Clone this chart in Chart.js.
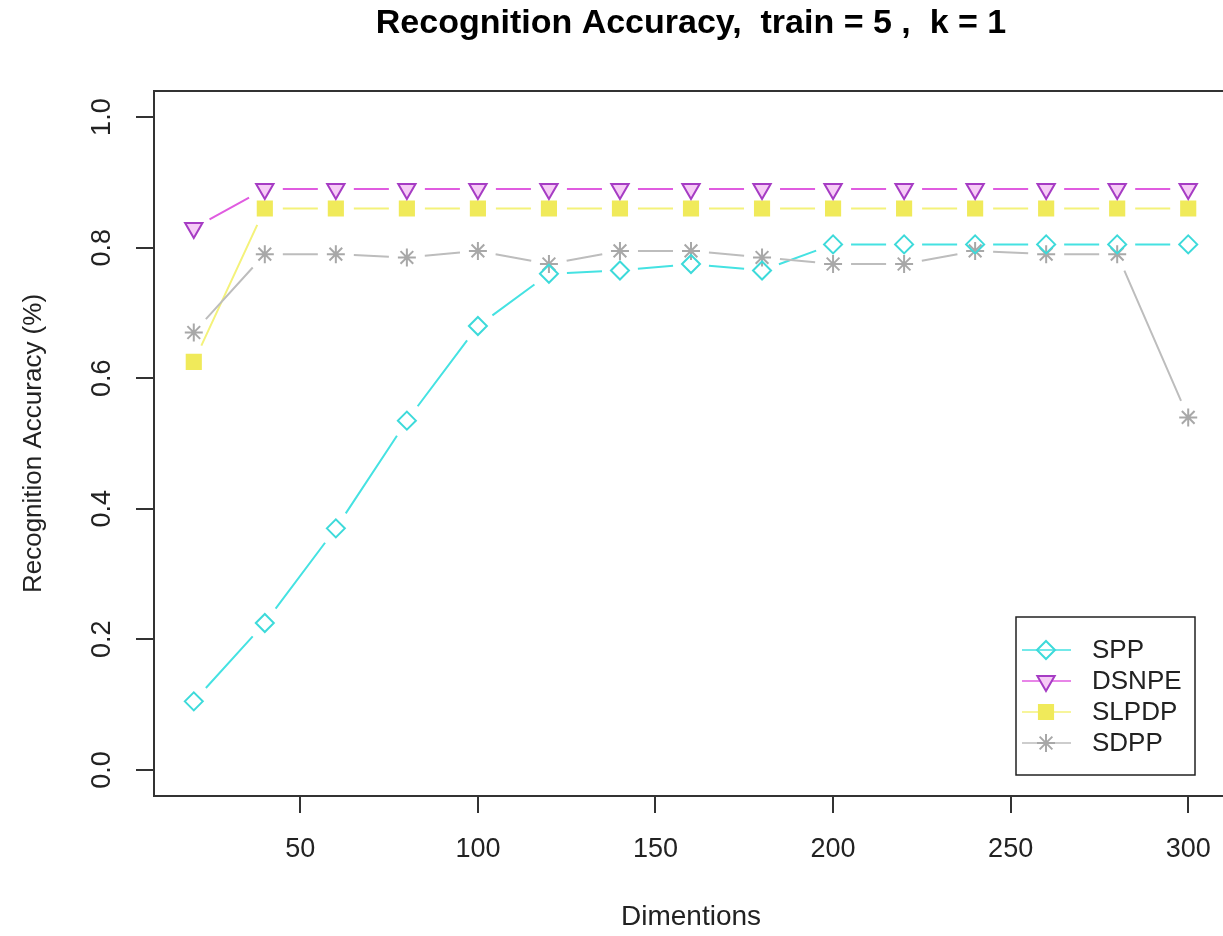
<!DOCTYPE html>
<html>
<head>
<meta charset="utf-8">
<script src="https://cdn.jsdelivr.net/npm/chart.js@4.4.1/dist/chart.umd.min.js"></script>
<style>
  html, body { margin: 0; padding: 0; background: #fff; overflow: hidden; }
  canvas { display: block; }
</style>
</head>
<body>
<canvas id="accChart" width="1240" height="936"></canvas>
<script>
// values
const dims = [20, 40, 60, 80, 100, 120, 140, 160, 180, 200, 220, 240, 260, 280, 300];
const spp = [0.105, 0.225, 0.37, 0.535, 0.68, 0.76, 0.765, 0.775, 0.765, 0.805, 0.805, 0.805, 0.805, 0.805, 0.805];
const dsnpe = [0.83, 0.89, 0.89, 0.89, 0.89, 0.89, 0.89, 0.89, 0.89, 0.89, 0.89, 0.89, 0.89, 0.89, 0.89];
const slpdp = [0.625, 0.86, 0.86, 0.86, 0.86, 0.86, 0.86, 0.86, 0.86, 0.86, 0.86, 0.86, 0.86, 0.86, 0.86];
const sdpp = [0.67, 0.79, 0.79, 0.785, 0.795, 0.775, 0.795, 0.795, 0.785, 0.775, 0.775, 0.795, 0.79, 0.79, 0.54];

const xTicks = [50, 100, 150, 200, 250, 300];
const yTicks = [0, 0.2, 0.4, 0.6, 0.8, 1.0];
const yTickLabels = ["0.0", "0.2", "0.4", "0.6", "0.8", "1.0"];

const FONT = "'Liberation Sans', Arial, sans-serif";

// R style 4% padding around the data range
const xSpan = Math.max(...dims) - Math.min(...dims);
const xMin = Math.min(...dims) - 0.04 * xSpan;
const xMax = Math.max(...dims) + 0.04 * xSpan;

function pts(vals) {
  return dims.map((d, i) => ({ x: d, y: vals[i] }));
}

const series = [
  { label: "SPP", data: spp, line: "#45e2e2", edge: "#3ddada", fill: "rgba(255,255,255,0)", style: "rectRot", r: 9, rot: 0 },
  { label: "DSNPE", data: dsnpe, line: "#e05ce0", edge: "#a63cc4", fill: "#f6ccf6", style: "triangle", r: 10, rot: 180 },
  { label: "SLPDP", data: slpdp, line: "#f4f27a", edge: "#f0ea5a", fill: "#f0ea5a", style: "rect", r: 10, rot: 0 },
  { label: "SDPP", data: sdpp, line: "#bdbdbd", edge: "#a8a8a8", fill: "#a8a8a8", style: "star", r: 9, rot: 0 }
];

const GAP = 18; // like R type = "b": lines stop short of the points

// connecting lines with gaps, drawn from the points the line controller placed
const gapLines = {
  id: "gapLines",
  beforeDatasetsDraw(chart) {
    const ctx = chart.ctx;
    ctx.save();
    chart.data.datasets.forEach((ds, i) => {
      const pts = chart.getDatasetMeta(i).data;
      ctx.strokeStyle = series[i].line;
      ctx.lineWidth = 2;
      ctx.beginPath();
      for (let k = 1; k < pts.length; k++) {
        const a = pts[k - 1], b = pts[k];
        const dx = b.x - a.x, dy = b.y - a.y;
        const len = Math.hypot(dx, dy);
        if (len <= 2 * GAP) continue;
        const ux = dx / len, uy = dy / len;
        ctx.moveTo(a.x + ux * GAP, a.y + uy * GAP);
        ctx.lineTo(b.x - ux * GAP, b.y - uy * GAP);
      }
      ctx.stroke();
    });
    ctx.restore();
  }
};

const boxPlugin = {
  id: "rbox",
  afterDraw(chart) {
    const { ctx, chartArea: a } = chart;
    ctx.save();
    ctx.strokeStyle = "#333";
    ctx.lineWidth = 2;
    ctx.strokeRect(a.left, a.top, a.right - a.left, a.bottom - a.top);

    // rotated y tick labels like R
    const ys = chart.scales.y;
    ctx.fillStyle = "#222";
    ctx.font = "27px " + FONT;
    ctx.textAlign = "center";
    ctx.textBaseline = "middle";
    yTicks.forEach((v, i) => {
      const py = ys.getPixelForValue(v);
      ctx.save();
      ctx.translate(a.left - 51, py);
      ctx.rotate(-Math.PI / 2);
      ctx.fillText(yTickLabels[i], 0, 0);
      ctx.restore();
    });

    // legend box, bottom right inside the plot
    const bw = 179, bh = 158;
    const bx = a.right - 33 - bw;
    const by = a.bottom - 21 - bh;
    ctx.fillStyle = "#fff";
    ctx.fillRect(bx, by, bw, bh);
    ctx.strokeStyle = "#222";
    ctx.lineWidth = 1.5;
    ctx.strokeRect(bx, by, bw, bh);
    ctx.font = "26px " + FONT;
    ctx.textAlign = "left";
    chart.data.datasets.forEach((ds, i) => {
      const s = series[i];
      const cy = by + 33 + i * 31;
      ctx.strokeStyle = s.line;
      ctx.lineWidth = 1.5;
      ctx.beginPath();
      ctx.moveTo(bx + 6, cy);
      ctx.lineTo(bx + 55, cy);
      ctx.stroke();
      ctx.strokeStyle = s.edge;
      ctx.fillStyle = s.fill;
      ctx.lineWidth = 2;
      Chart.helpers.drawPoint(ctx, { pointStyle: s.style, radius: s.r, rotation: s.rot, borderWidth: 2 }, bx + 30, cy);
      ctx.fillStyle = "#222";
      ctx.fillText(ds.label, bx + 76, cy + 1);
    });
    ctx.restore();
  }
};

const chart = new Chart(document.getElementById("accChart"), {
  type: "line",
  data: {
    datasets: series.map(s => ({
      label: s.label,
      data: pts(s.data),
      borderColor: s.line,
      borderWidth: 2,
      showLine: false,
      tension: 0,
      fill: false,
      pointStyle: s.style,
      pointRadius: s.r,
      pointRotation: s.rot,
      pointBorderColor: s.edge,
      pointBackgroundColor: s.fill,
      pointBorderWidth: 2
    }))
  },
  options: {
    responsive: false,
    animation: false,
    layout: { padding: { left: 0, right: 10, top: 0, bottom: 0 } },
    plugins: {
      legend: { display: false },
      tooltip: { enabled: false },
      title: {
        display: true,
        fullSize: false,
        text: "Recognition Accuracy,  train = 5 ,  k = 1",
        color: "#000",
        font: { family: FONT, size: 34, weight: "bold" },
        padding: { top: 3, bottom: 47.2 }
      }
    },
    scales: {
      x: {
        type: "linear",
        min: xMin,
        max: xMax,
        afterBuildTicks: sc => { sc.ticks = xTicks.map(v => ({ value: v })); },
        afterFit: sc => { sc.height = 140; },
        grid: { drawOnChartArea: false, drawTicks: true, tickLength: 17, color: "#333", lineWidth: 2 },
        border: { display: false },
        ticks: { color: "#222", padding: 20, maxRotation: 0, font: { family: FONT, size: 27 }, callback: v => String(v) },
        title: { display: true, text: "Dimentions", color: "#222", font: { family: FONT, size: 28 }, padding: { top: 0, bottom: 2 } }
      },
      y: {
        type: "linear",
        min: -0.04,
        max: 1.04,
        afterBuildTicks: sc => { sc.ticks = yTicks.map(v => ({ value: v })); },
        afterFit: sc => { sc.width = 154; },
        grid: { drawOnChartArea: false, drawTicks: true, tickLength: 18, color: "#333", lineWidth: 2 },
        border: { display: false },
        ticks: { display: false },
        title: { display: true, text: "Recognition Accuracy (%)", color: "#222", font: { family: FONT, size: 26 }, padding: { top: 18, bottom: 0 } }
      }
    }
  },
  plugins: [gapLines, boxPlugin]
});
</script>
</body>
</html>
